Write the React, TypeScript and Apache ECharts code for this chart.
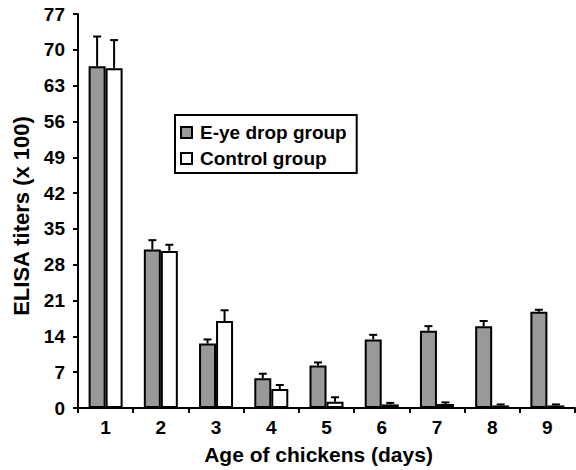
import React, { useEffect, useRef } from "react";
import * as echarts from "echarts";

const categories = ["1", "2", "3", "4", "5", "6", "7", "8", "9"];
const eyeDrop = [66.8, 31.0, 12.6, 5.8, 8.3, 13.4, 15.1, 16.0, 18.8];
const eyeDropSD = [5.8, 1.8, 0.8, 0.9, 0.6, 0.9, 0.9, 1.0, 0.4];
const control = [66.4, 30.7, 17.0, 3.7, 1.2, 0.7, 0.8, 0.5, 0.5];
const controlSD = [5.5, 1.2, 2.1, 0.8, 0.9, 0.3, 0.3, 0.2, 0.2];
const yTicks = [0, 7, 14, 21, 28, 35, 42, 49, 56, 63, 70, 77];

const FONT = "'Liberation Sans', Arial, Helvetica, sans-serif";
const BAR_W = 17;

function errorSeries(name: string, vals: number[], sds: number[], offset: number) {
  return {
    name: name + " SD",
    type: "custom",
    z: 5,
    silent: true,
    encode: { x: 0, y: [1, 2] },
    data: vals.map((v, i) => [i, v, v + sds[i]]),
    renderItem: (_params: any, api: any) => {
      const i = api.value(0);
      const v = api.value(1);
      const hi = api.value(2);
      const base = api.coord([i, v]);
      const top = api.coord([i, hi]);
      const x = base[0] + offset;
      return {
        type: "group",
        children: [
          {
            type: "line",
            shape: { x1: x, y1: base[1], x2: x, y2: top[1] },
            style: { stroke: "#000", lineWidth: 2 },
          },
          {
            type: "line",
            shape: { x1: x - 4, y1: top[1], x2: x + 4, y2: top[1] },
            style: { stroke: "#000", lineWidth: 2 },
          },
        ],
      };
    },
  };
}

export default function App() {
  const ref = useRef<HTMLDivElement>(null);
  useEffect(() => {
    if (!ref.current) return;
    const chart = echarts.init(ref.current, undefined, { renderer: "svg" });
    chart.setOption({
      animation: false,
      backgroundColor: "#fff",
      textStyle: { fontFamily: FONT },
      grid: { left: 78, right: 1, top: 14, bottom: 58, containLabel: false },
      legend: {
        orient: "vertical",
        left: 175,
        top: 115,
        data: ["E-ye drop group", "Control group"],
        icon: "rect",
        itemWidth: 11,
        itemHeight: 11,
        itemGap: 7,
        padding: [8, 10, 5, 5],
        borderColor: "#000",
        borderWidth: 2,
        borderRadius: 0,
        itemStyle: { borderColor: "#000", borderWidth: 2 },
        textStyle: { fontFamily: FONT, fontSize: 19, fontWeight: "bold", color: "#000", padding: [0, 0, 0, 3] },
      },
      xAxis: {
        type: "category",
        data: categories,
        name: "Age of chickens (days)",
        nameLocation: "middle",
        nameGap: 36,
        nameTextStyle: { fontFamily: FONT, fontSize: 21, fontWeight: "bold", color: "#000", padding: [0, 16, 0, 0] },
        axisLine: { lineStyle: { color: "#000", width: 2 } },
        axisTick: { show: true, length: 5, lineStyle: { color: "#000", width: 2 } },
        axisLabel: { fontFamily: FONT, fontSize: 19, fontWeight: "bold", color: "#000", margin: 10 },
      },
      yAxis: {
        type: "value",
        min: 0,
        max: 77,
        interval: 7,
        name: "ELISA titers (x 100)",
        nameLocation: "middle",
        nameGap: 46,
        nameTextStyle: { fontFamily: FONT, fontSize: 22, fontWeight: "bold", color: "#000", padding: [0, 10, 0, 0] },
        splitLine: { show: false },
        axisLine: { show: true, lineStyle: { color: "#000", width: 2 } },
        axisTick: { show: true, length: 5, lineStyle: { color: "#000", width: 2 } },
        axisLabel: {
          fontFamily: FONT,
          fontSize: 19,
          fontWeight: "bold",
          color: "#000",
          margin: 13,
          formatter: (v: number) => (yTicks.indexOf(v) >= 0 ? String(v) : ""),
        },
      },
      series: [
        {
          name: "E-ye drop group",
          type: "bar",
          data: eyeDrop,
          barWidth: BAR_W,
          barGap: "0%",
          itemStyle: { color: "#999999", borderColor: "#000", borderWidth: 2 },
        },
        {
          name: "Control group",
          type: "bar",
          data: control,
          barWidth: BAR_W,
          barGap: "0%",
          itemStyle: { color: "#ffffff", borderColor: "#000", borderWidth: 2 },
        },
        errorSeries("E-ye drop group", eyeDrop, eyeDropSD, -BAR_W / 2),
        errorSeries("Control group", control, controlSD, BAR_W / 2),
      ],
    });
    return () => chart.dispose();
  }, []);
  return (
    <div
      ref={ref}
      style={{ position: "fixed", left: 0, top: 0, width: 576, height: 470, background: "#fff" }}
    />
  );
}
